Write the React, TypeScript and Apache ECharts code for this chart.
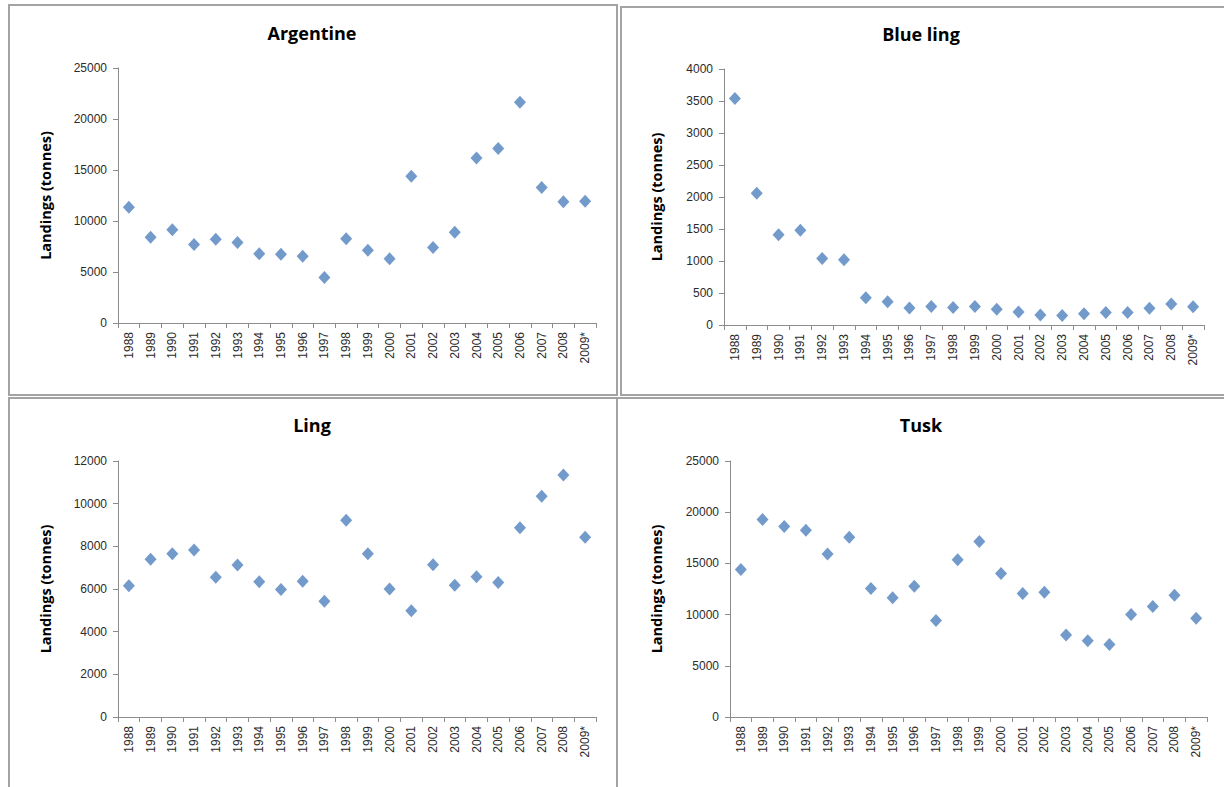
import React, { useEffect, useRef } from "react";
import * as echarts from "echarts";

// Years on the category axis
const years = [
  "1988", "1989", "1990", "1991", "1992", "1993", "1994", "1995", "1996", "1997", "1998",
  "1999", "2000", "2001", "2002", "2003", "2004", "2005", "2006", "2007", "2008", "2009*",
];

// Landings (tonnes) per species
const argentine = [
  11350, 8400, 9130, 7700, 8200, 7900, 6780, 6750, 6550, 4470, 8250,
  7140, 6290, 14380, 7400, 8900, 16170, 17100, 21650, 13280, 11880, 11930,
];
const blueLing = [
  3540, 2060, 1410, 1480, 1040, 1020, 425, 365, 265, 290, 275,
  290, 245, 205, 155, 150, 175, 195, 195, 260, 330, 285,
];
const ling = [
  6150, 7390, 7650, 7830, 6550, 7120, 6340, 5980, 6360, 5420, 9220,
  7650, 6000, 4980, 7140, 6170, 6580, 6310, 8870, 10350, 11340, 8420,
];
const tusk = [
  14400, 19280, 18600, 18240, 15930, 17550, 12550, 11640, 12780, 9430, 15350,
  17130, 14010, 12060, 12190, 8000, 7450, 7090, 10010, 10790, 11900, 9650,
];

const titles = ["Argentine", "Blue ling", "Ling", "Tusk"];
const yMax = [25000, 4000, 12000, 25000];
const yStep = [5000, 500, 2000, 5000];
const seriesData = [argentine, blueLing, ling, tusk];

// Plot areas and panel frames (page pixels)
const grids = [
  { left: 118, top: 68, width: 478, height: 255 },
  { left: 724, top: 69, width: 480, height: 256 },
  { left: 118, top: 461, width: 478, height: 256 },
  { left: 730, top: 461, width: 477, height: 256 },
];
const titleCenters = [
  [312, 33],
  [921, 34],
  [312, 425],
  [921, 425],
];
const frames = [
  { x: 9, y: 5, w: 608, h: 390 },
  { x: 621, y: 7, w: 610, h: 388 },
  { x: 9, y: 398, w: 608, h: 400 },
  { x: 617, y: 398, w: 614, h: 400 },
];

const AXIS_COLOR = "#8c8c8c";
const LABEL_COLOR = "#2b2b2b";
const MARKER_COLOR = "#4f81bd";
const TICK_FONT = "'Liberation Sans', Arial, sans-serif";

export default function App() {
  const ref = useRef<HTMLDivElement>(null);

  useEffect(() => {
    if (!ref.current) return;
    const chart = echarts.init(ref.current, undefined, { renderer: "svg" });

    const graphic: any[] = [];
    frames.forEach((f) => {
      graphic.push({
        type: "rect",
        shape: { x: f.x, y: f.y, width: f.w, height: f.h },
        style: { fill: "none", stroke: "#a3a3a3", lineWidth: 2 },
        silent: true,
      });
    });
    grids.forEach((g, i) => {
      graphic.push({
        type: "text",
        x: titleCenters[i][0],
        y: titleCenters[i][1],
        style: {
          text: titles[i],
          fill: "#000",
          font: "bold 18px 'Open Sans', sans-serif",
          align: "center",
          verticalAlign: "middle",
        },
      });
      graphic.push({
        type: "text",
        x: i % 2 === 0 ? 45 : 656,
        y: g.top + g.height / 2,
        rotation: Math.PI / 2,
        style: {
          text: "Landings (tonnes)",
          fill: "#000",
          font: "bold 14.5px 'Open Sans', sans-serif",
          align: "center",
          verticalAlign: "middle",
        },
      });
    });

    const option: echarts.EChartsOption = {
      animation: false,
      backgroundColor: "#ffffff",
      grid: grids.map((g) => ({ ...g, containLabel: false })),
      xAxis: grids.map((_, i) => ({
        type: "category",
        gridIndex: i,
        data: years,
        boundaryGap: true,
        axisLine: { lineStyle: { color: AXIS_COLOR, width: 1 } },
        axisTick: { show: true, length: 5, alignWithLabel: false, lineStyle: { color: AXIS_COLOR } },
        axisLabel: {
          rotate: 90,
          interval: 0,
          margin: 9,
          color: LABEL_COLOR,
          fontSize: 12,
          fontFamily: TICK_FONT,
        },
        splitLine: { show: false },
      })),
      yAxis: grids.map((_, i) => ({
        type: "value",
        gridIndex: i,
        min: 0,
        max: yMax[i],
        interval: yStep[i],
        axisLine: { show: true, lineStyle: { color: AXIS_COLOR, width: 1 } },
        axisTick: { show: true, length: 5, lineStyle: { color: AXIS_COLOR } },
        axisLabel: {
          margin: 11,
          color: LABEL_COLOR,
          fontSize: 12,
          fontFamily: TICK_FONT,
          formatter: (v: number) => String(v),
        },
        splitLine: { show: false },
      })),
      series: seriesData.map((d, i) => ({
        type: "scatter",
        xAxisIndex: i,
        yAxisIndex: i,
        data: d,
        symbol: "diamond",
        symbolSize: [12, 13],
        itemStyle: { color: MARKER_COLOR },
      })),
      graphic,
    };

    chart.setOption(option);
    return () => chart.dispose();
  }, []);

  return (
    <div
      ref={ref}
      style={{ position: "fixed", left: 0, top: 0, width: 1224, height: 787, background: "#fff" }}
    />
  );
}
